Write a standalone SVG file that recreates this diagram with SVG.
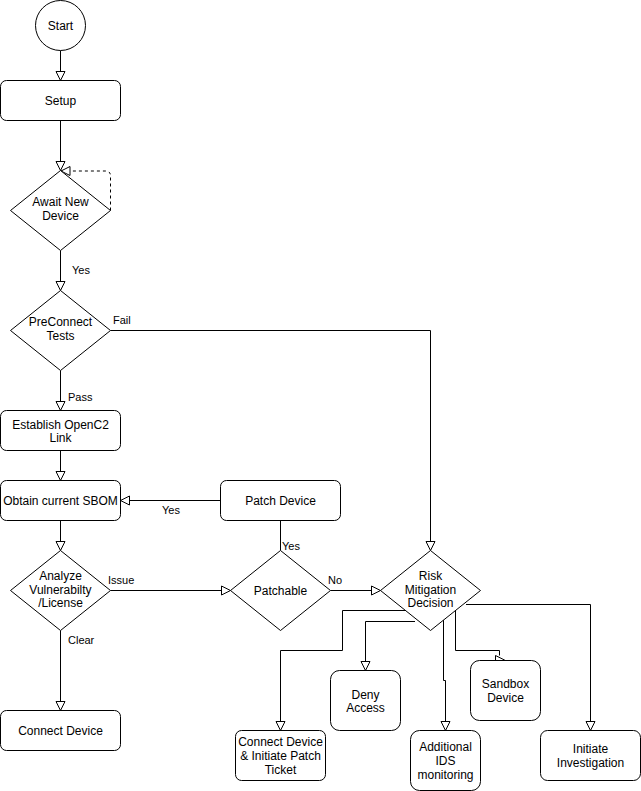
<svg xmlns="http://www.w3.org/2000/svg" width="641" height="791" viewBox="0 0 641 791">
<style>
.n{fill:#fff;stroke:#000;stroke-width:1}
.t{font-family:"Liberation Sans",Arial,sans-serif;font-size:12px;fill:#000;text-anchor:middle}
.l{font-family:"Liberation Sans",Arial,sans-serif;font-size:11px;fill:#000}
.c{fill:none;stroke:#000;stroke-width:1}
.a{marker-end:url(#arr)}
</style>
<defs>
<marker id="arr" markerUnits="userSpaceOnUse" markerWidth="12" markerHeight="11" refX="10" refY="5" orient="auto" overflow="visible">
<path d="M1,0.5 L10,5 L1,9.5 Z" fill="#fff" stroke="#000" stroke-width="1"/>
</marker>
</defs>
<rect width="641" height="791" fill="#fff"/>
<g id="connectors">
<path class="c a" d="M60.5,50.5 V80.5"/>
<path class="c a" d="M60.5,120.5 V170.5"/>
<path class="c a" d="M110.5,210.5 V176 Q110.5,171 105.5,171 H61" stroke-dasharray="3 3"/>
<path class="c a" d="M60.5,250.5 V290.5"/>
<path class="c a" d="M60.5,370.5 V410.5"/>
<path class="c a" d="M110.5,330.5 H430.5 V550.5"/>
<path class="c a" d="M60.5,450.5 V480.5"/>
<path class="c a" d="M220.5,500.5 H120.5"/>
<path class="c a" d="M60.5,520.5 V550.5"/>
<path class="c a" d="M110.5,590.5 H230.5"/>
<path class="c" d="M280.5,550.5 V520.5"/>
<path class="c a" d="M330.5,590.5 H380.5"/>
<path class="c a" d="M60.5,630.5 V710.5"/>
<path class="c a" d="M405,610.5 H342.5 V650.5 H280.5 V730.5"/>
<path class="c a" d="M415,621.5 H365.5 V670.5"/>
<path class="c a" d="M443.5,619.5 V680.5 H445.5 V730.5"/>
<path class="c" d="M455.5,609.5 V650.5 H499.5 V655.5"/>
<polygon points="495.5,655.5 504.5,660 495.5,664.5" fill="#fff" stroke="#000" stroke-width="1"/>
<path class="c a" d="M466,604.5 H590.5 V730.5"/>
<text class="l" x="72" y="274">Yes</text>
<text class="l" x="113" y="324">Fail</text>
<text class="l" x="68" y="401">Pass</text>
<text class="l" x="162" y="514">Yes</text>
<text class="l" x="282" y="550">Yes</text>
<text class="l" x="108" y="584">Issue</text>
<text class="l" x="328" y="584">No</text>
<text class="l" x="68" y="644">Clear</text>
</g>
<g id="start">
<circle class="n" cx="60.5" cy="25.5" r="25"/>
<text class="t" x="60.5" y="29.5">Start</text>
</g>
<g id="setup">
<rect class="n" x="0.5" y="80.5" width="120" height="40" rx="6"/>
<text class="t" x="60.5" y="104.5">Setup</text>
</g>
<g id="await">
<polygon class="n" points="60.5,170.5 110.5,210.5 60.5,250.5 10.5,210.5"/>
<text class="t" x="60.5" y="206">Await New</text>
<text class="t" x="60.5" y="219.5">Device</text>
</g>
<g id="preconnect">
<polygon class="n" points="60.5,290.5 110.5,330.5 60.5,370.5 10.5,330.5"/>
<text class="t" x="60.5" y="326">PreConnect</text>
<text class="t" x="60.5" y="340">Tests</text>
</g>
<g id="establish">
<rect class="n" x="0.5" y="410.5" width="120" height="40" rx="6"/>
<text class="t" x="60.5" y="428.5">Establish OpenC2</text>
<text class="t" x="60.5" y="442">Link</text>
</g>
<g id="sbom">
<rect class="n" x="0.5" y="480.5" width="120" height="40" rx="6"/>
<text class="t" x="60.5" y="504.5">Obtain current SBOM</text>
</g>
<g id="patch">
<rect class="n" x="220.5" y="480.5" width="120" height="40" rx="6"/>
<text class="t" x="280.5" y="504.5">Patch Device</text>
</g>
<g id="analyze">
<polygon class="n" points="60.5,550.5 110.5,590.5 60.5,630.5 10.5,590.5"/>
<text class="t" x="60.5" y="579.5">Analyze</text>
<text class="t" x="60.5" y="593.5">Vulnerabilty</text>
<text class="t" x="60.5" y="607">/License</text>
</g>
<g id="patchable">
<polygon class="n" points="280.5,550.5 330.5,590.5 280.5,630.5 230.5,590.5"/>
<text class="t" x="280.5" y="594.5">Patchable</text>
</g>
<g id="risk">
<polygon class="n" points="430.5,550.5 480.5,590.5 430.5,630.5 380.5,590.5"/>
<text class="t" x="430.5" y="579.5">Risk</text>
<text class="t" x="430.5" y="593.5">Mitigation</text>
<text class="t" x="430.5" y="607">Decision</text>
</g>
<g id="connect">
<rect class="n" x="0.5" y="710.5" width="120" height="40" rx="6"/>
<text class="t" x="60.5" y="734.5">Connect Device</text>
</g>
<g id="connectpatch">
<rect class="n" x="235.5" y="730.5" width="90" height="50" rx="6"/>
<text class="t" x="280.5" y="746">Connect Device</text>
<text class="t" x="280.5" y="760">&amp; Initiate Patch</text>
<text class="t" x="280.5" y="773.5">Ticket</text>
</g>
<g id="deny">
<rect class="n" x="330.5" y="670.5" width="70" height="60" rx="9"/>
<text class="t" x="365.5" y="698.5">Deny</text>
<text class="t" x="365.5" y="712">Access</text>
</g>
<g id="ids">
<rect class="n" x="410.5" y="730.5" width="70" height="60" rx="9"/>
<text class="t" x="445.5" y="751">Additional</text>
<text class="t" x="445.5" y="765">IDS</text>
<text class="t" x="445.5" y="779">monitoring</text>
</g>
<g id="sandbox">
<rect class="n" x="470.5" y="660.5" width="70" height="60" rx="9"/>
<text class="t" x="505.5" y="688">Sandbox</text>
<text class="t" x="505.5" y="702">Device</text>
</g>
<g id="investigate">
<rect class="n" x="540.5" y="730.5" width="100" height="50" rx="7"/>
<text class="t" x="590.5" y="753">Initiate</text>
<text class="t" x="590.5" y="767">Investigation</text>
</g>
</svg>
